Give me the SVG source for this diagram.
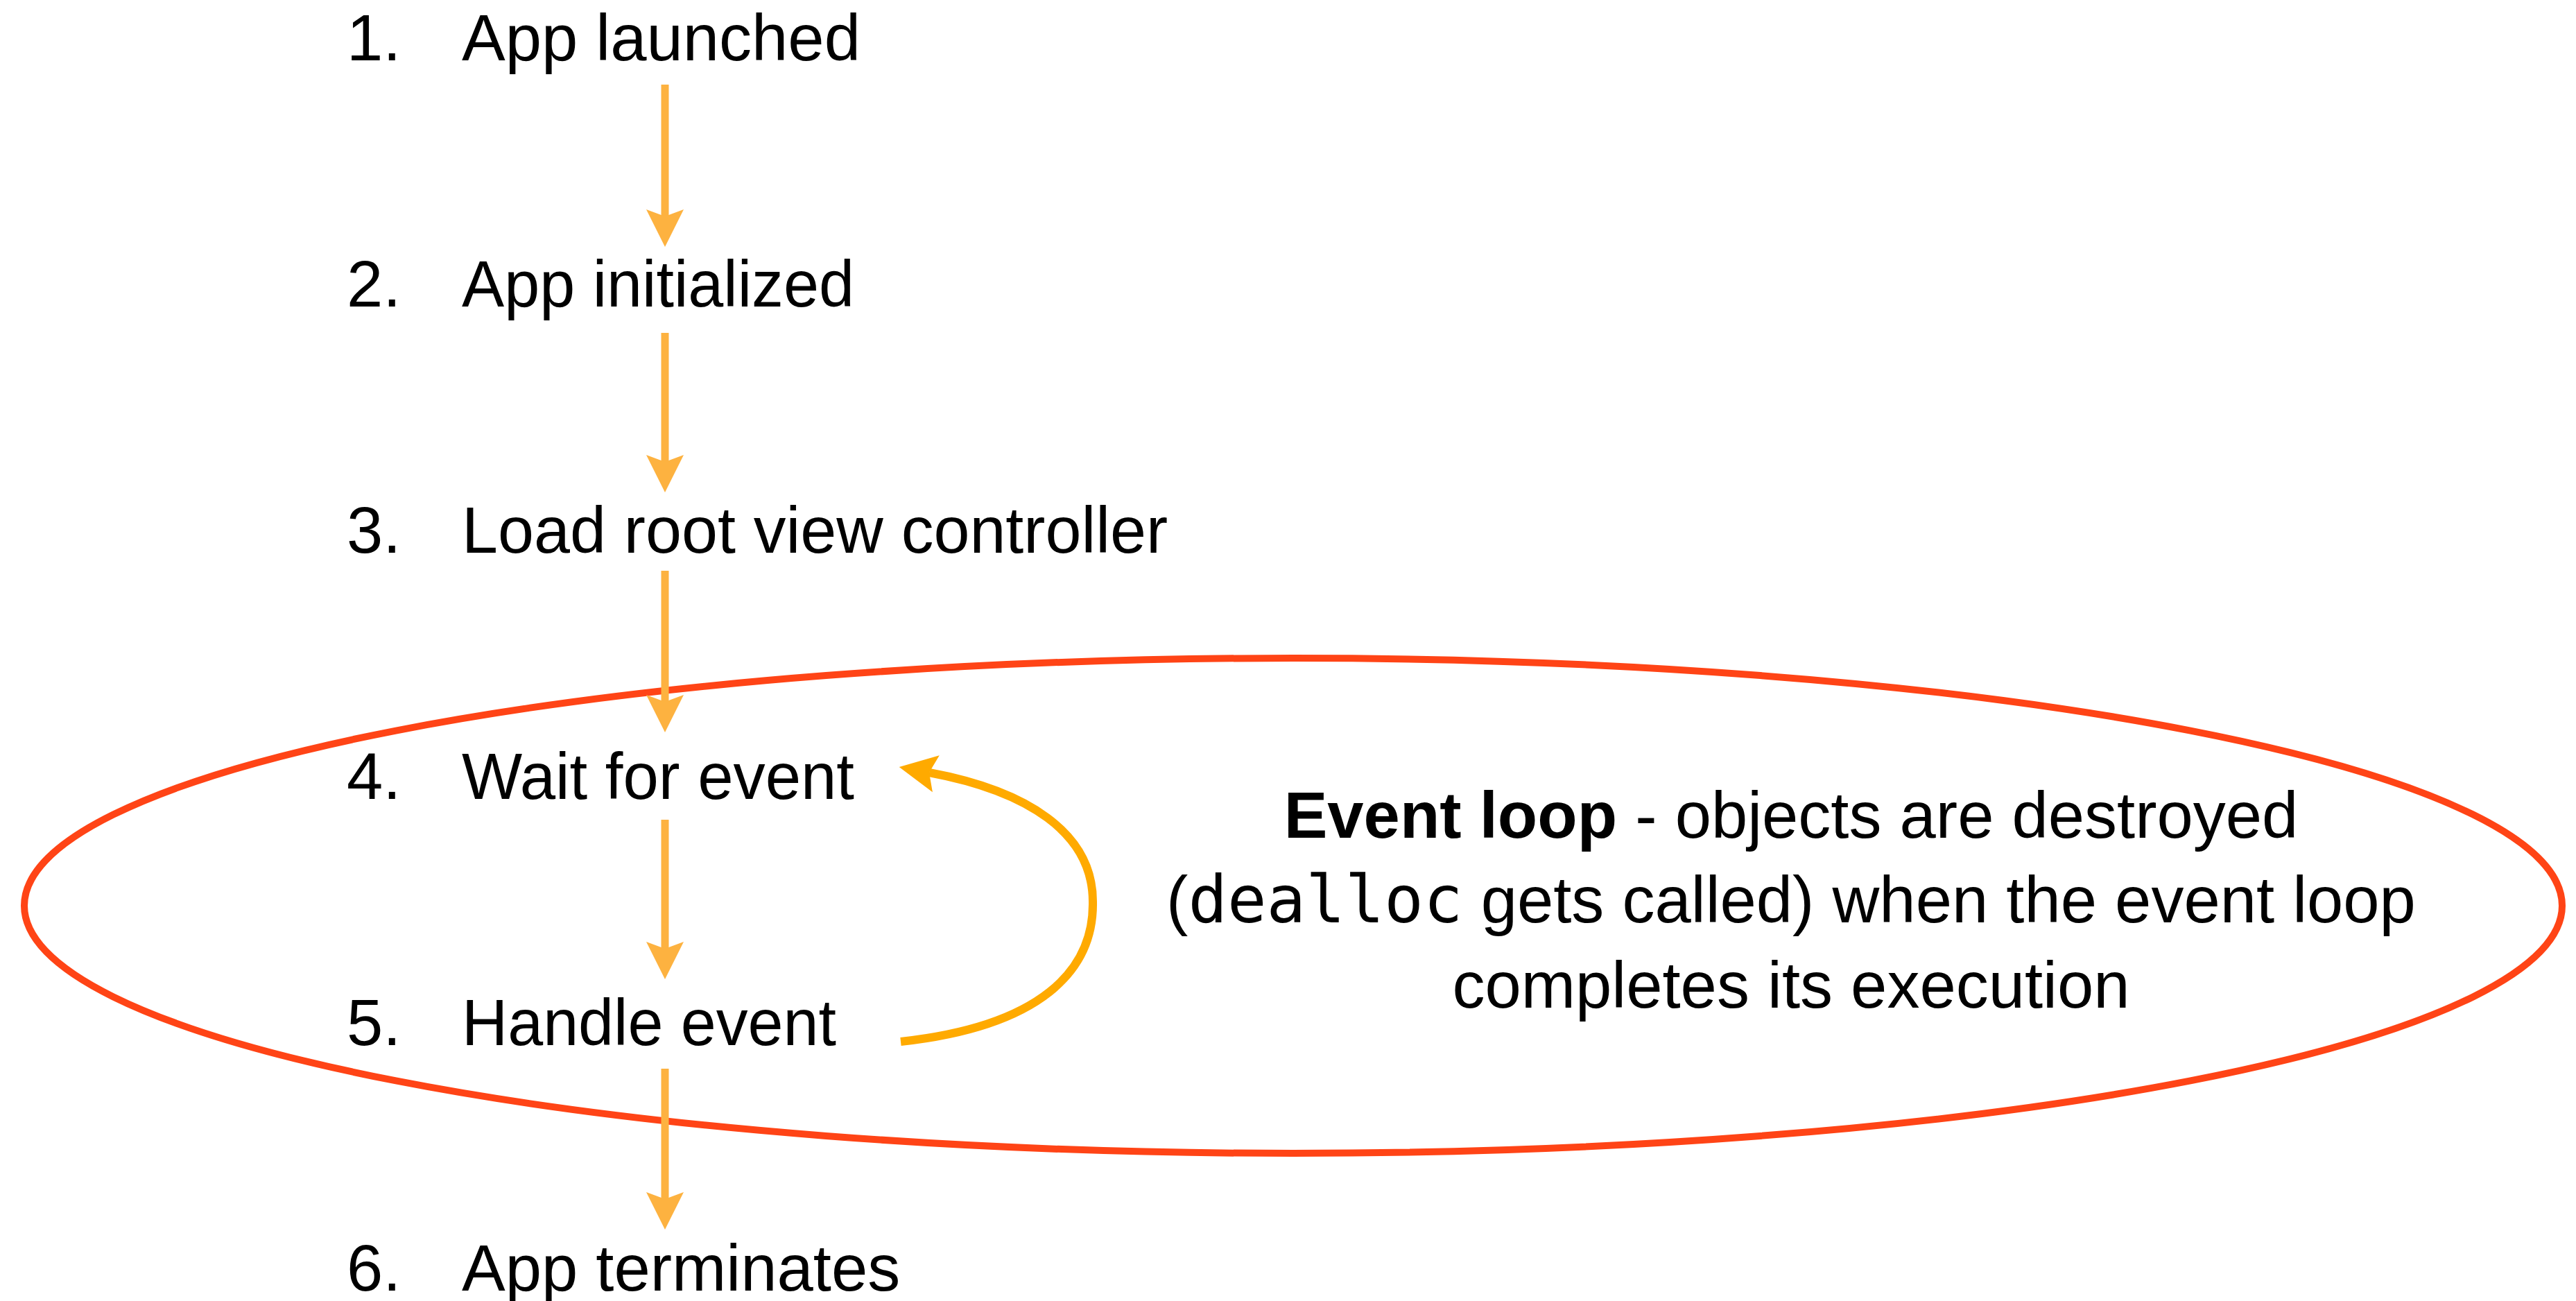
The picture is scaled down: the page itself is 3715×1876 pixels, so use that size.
<svg xmlns="http://www.w3.org/2000/svg" width="3715" height="1876" viewBox="0 0 3715 1876">
  <style>
    .step { font-family: "Liberation Sans", Arial, Helvetica, sans-serif; font-size: 94px; fill: #000; }
    .note { font-family: "Liberation Sans", Arial, Helvetica, sans-serif; font-size: 94px; fill: #000; text-anchor: middle; }
    .code { font-family: "DejaVu Sans Mono", "Liberation Mono", monospace; }
    .flow { fill: none; stroke: #FDB240; stroke-width: 11; }
    .back { fill: none; stroke: #FFAA00; stroke-width: 12; }
    .loop { fill: none; stroke: #FF4416; stroke-width: 10; }
  </style>
  <defs>
    <marker id="head-flow" markerUnits="userSpaceOnUse" viewBox="0 -28 56 56" markerWidth="56" markerHeight="56" refX="10" refY="0" orient="auto">
      <path d="M54,0 L0,-27 L10,0 L0,27 Z" fill="#FDB240"/>
    </marker>
    <marker id="head-back" markerUnits="userSpaceOnUse" viewBox="0 -28 56 56" markerWidth="56" markerHeight="56" refX="10" refY="0" orient="auto">
      <path d="M54,0 L0,-27 L10,0 L0,27 Z" fill="#FFAA00"/>
    </marker>
  </defs>

  <!-- event loop boundary -->
  <g id="event-loop">
    <ellipse class="loop" cx="1865" cy="1306" rx="1830" ry="357"/>
    <text class="note" x="2583" y="1208"><tspan font-weight="bold">Event loop</tspan> - objects are destroyed</text>
    <text class="note" x="2583" y="1330">(<tspan class="code">dealloc</tspan> gets called) when the event loop</text>
    <text class="note" x="2583" y="1453">completes its execution</text>
  </g>

  <!-- lifecycle steps -->
  <g id="step1"><text class="step" x="500" y="87">1.</text><text class="step" x="666" y="87">App launched</text></g>
  <g id="step2"><text class="step" x="500" y="442">2.</text><text class="step" x="666" y="442" textLength="566" lengthAdjust="spacingAndGlyphs">App initialized</text></g>
  <g id="step3"><text class="step" x="500" y="797">3.</text><text class="step" x="666" y="797" textLength="1018" lengthAdjust="spacingAndGlyphs">Load root view controller</text></g>
  <g id="step4"><text class="step" x="500" y="1152">4.</text><text class="step" x="666" y="1152" textLength="566" lengthAdjust="spacingAndGlyphs">Wait for event</text></g>
  <g id="step5"><text class="step" x="500" y="1507">5.</text><text class="step" x="666" y="1507" textLength="540" lengthAdjust="spacingAndGlyphs">Handle event</text></g>
  <g id="step6"><text class="step" x="500" y="1861">6.</text><text class="step" x="666" y="1861">App terminates</text></g>

  <!-- connectors -->
  <g id="connectors">
    <line class="flow" x1="959" y1="122" x2="959" y2="312" marker-end="url(#head-flow)"/>
    <line class="flow" x1="959" y1="480" x2="959" y2="666" marker-end="url(#head-flow)"/>
    <line class="flow" x1="959" y1="823" x2="959" y2="1012" marker-end="url(#head-flow)"/>
    <line class="flow" x1="959" y1="1182" x2="959" y2="1368" marker-end="url(#head-flow)"/>
    <line class="flow" x1="959" y1="1541" x2="959" y2="1729" marker-end="url(#head-flow)"/>
    <path class="back" d="M1299,1502 C1500,1480 1578,1400 1576,1300 C1576,1200 1480,1140 1340,1114" marker-end="url(#head-back)"/>
  </g>
</svg>
